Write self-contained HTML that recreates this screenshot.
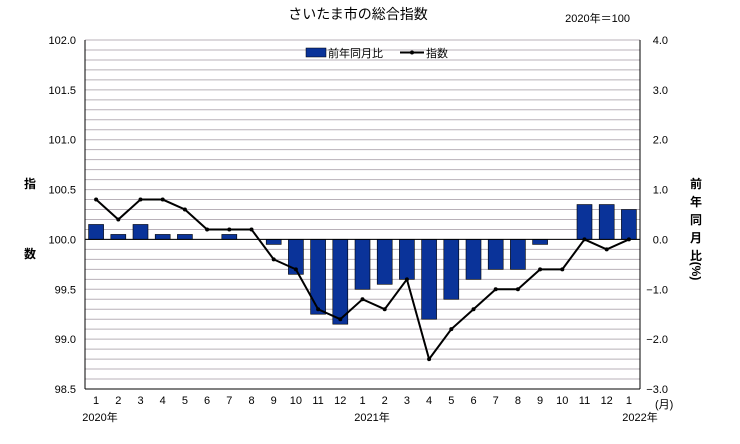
<!DOCTYPE html>
<html><head><meta charset="utf-8"><style>
body{margin:0;background:#fff;}
svg{display:block;font-family:"Liberation Sans","Noto Sans CJK JP",sans-serif;}
</style></head><body>
<svg id="chart" width="740" height="444">
<text x="358" y="19" font-size="14" text-anchor="middle">さいたま市の総合指数</text>
<text x="630" y="22" font-size="11" text-anchor="end">2020年＝100</text>
<g id="grid"></g><g id="bars"></g><g id="line"></g><g id="axes"></g>
<g font-size="12" font-weight="bold"><text x="30" y="188" text-anchor="middle">指</text><text x="30" y="258" text-anchor="middle">数</text></g>
<g font-size="12" font-weight="bold" text-anchor="middle">
<text x="696" y="188">前</text><text x="696" y="206">年</text><text x="696" y="224">同</text><text x="696" y="242">月</text><text x="696" y="260">比</text><text x="696" y="275" transform="rotate(90 696 271)">(%)</text></g>
<g font-size="11">
<rect x="306" y="48" width="20" height="9" fill="#0a3399" stroke="#000" stroke-width="0.5"/>
<text x="328" y="57">前年同月比</text>
<line x1="400" y1="52.5" x2="424" y2="52.5" stroke="#000" stroke-width="2"/>
<circle cx="412" cy="52.5" r="2" fill="#000"/>
<text x="426" y="57">指数</text></g>
<text x="655" y="408" font-size="11">(月)</text>
<text x="100" y="421" font-size="11" text-anchor="middle">2020年</text>
<text x="372" y="421" font-size="11" text-anchor="middle">2021年</text>
<text x="640" y="421" font-size="11" text-anchor="middle">2022年</text>
</svg>
<script>
const months=["1","2","3","4","5","6","7","8","9","10","11","12","1","2","3","4","5","6","7","8","9","10","11","12","1"];
const indexValues=[100.4,100.2,100.4,100.4,100.3,100.1,100.1,100.1,99.8,99.7,99.3,99.2,99.4,99.3,99.6,98.8,99.1,99.3,99.5,99.5,99.7,99.7,100.0,99.9,100.0];
const yoyValues=[0.3,0.1,0.3,0.1,0.1,0,0.1,0,-0.1,-0.7,-1.5,-1.7,-1.0,-0.9,-0.8,-1.6,-1.2,-0.8,-0.6,-0.6,-0.1,0,0.7,0.7,0.6];
const leftTicks=["102.0","101.5","101.0","100.5","100.0","99.5","99.0","98.5"];
const rightTicks=["4.0","3.0","2.0","1.0","0.0","−1.0","−2.0","−3.0"];
const NS="http://www.w3.org/2000/svg";
const X0=85,X1=640,Y0=40,Y1=389;
const bw=(X1-X0)/months.length;
const xc=i=>X0+bw*(i+0.5);
const yL=v=>Y0+(102-v)/3.5*(Y1-Y0);
const yR=v=>Y0+(4-v)/7*(Y1-Y0);
function mk(tag,attrs,parent){const e=document.createElementNS(NS,tag);for(const k in attrs)e.setAttribute(k,attrs[k]);parent.appendChild(e);return e;}
const grid=document.getElementById('grid'),bars=document.getElementById('bars'),line=document.getElementById('line'),axes=document.getElementById('axes');
for(let k=0;k<=35;k++){const y=Y0+k*(Y1-Y0)/35;const g=mk('line',{x1:X0,x2:X1,y1:y,y2:y,stroke:'#b8b0b8','stroke-width':1},grid);

}
leftTicks.forEach((t,i)=>{const v=parseFloat(t);const e=mk('text',{x:X0-9,y:yL(v)+4,'font-size':11,'text-anchor':'end'},axes);e.textContent=t;

});
rightTicks.forEach((t,i)=>{const v=parseFloat(t.replace('−','-'));const e=mk('text',{x:X1+28,y:yR(v)+4,'font-size':11,'text-anchor':'end'},axes);e.textContent=t;

});
months.forEach((m,i)=>{const e=mk('text',{x:xc(i),y:404,'font-size':11,'text-anchor':'middle'},axes);e.textContent=m;

});
yoyValues.forEach((v,i)=>{if(v===0)return;const y0=yR(0),y=yR(v);const r=mk('rect',{x:xc(i)-7.5,width:15,y:Math.min(y0,y),height:Math.abs(y-y0),fill:'#0a3399',stroke:'#000','stroke-width':0.6},bars);

});
const zl=mk('line',{x1:X0,x2:X1,y1:yL(100),y2:yL(100),stroke:'#000','stroke-width':1},axes);


[[X0,Y0,X0,Y1],[X1,Y0,X1,Y1],[X0,Y1,X1,Y1]].forEach(a=>{const l=mk('line',{x1:a[0],y1:a[1],x2:a[2],y2:a[3],stroke:'#000','stroke-width':1},axes);

});
const p=mk('polyline',{points:indexValues.map((v,i)=>xc(i)+','+yL(v)).join(' '),fill:'none',stroke:'#000','stroke-width':2},line);


indexValues.forEach((v,i)=>{const c=mk('circle',{cx:xc(i),cy:yL(v),r:2,fill:'#000'},line);

});
</script>
</body></html>
